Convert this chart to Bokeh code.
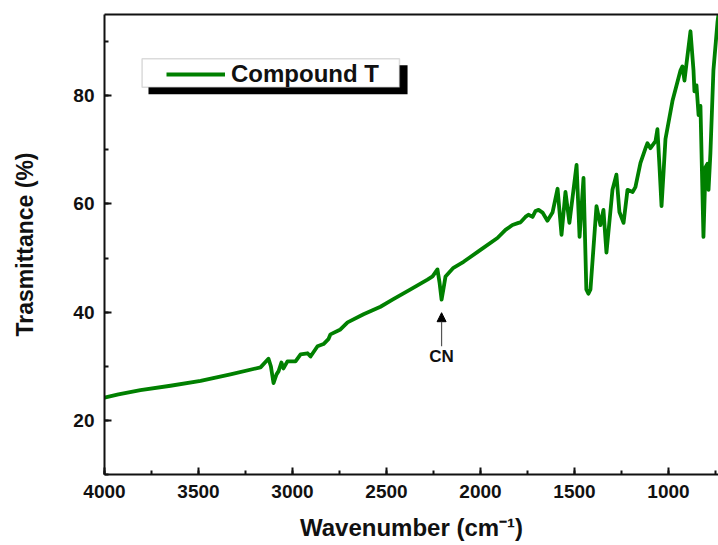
from bokeh.plotting import figure
from bokeh.models import (Range1d, LinearAxis, SingleIntervalTicker, FixedTicker,
                          BoxAnnotation, Legend, LegendItem, Arrow, NormalHead, Label,
                          ColumnDataSource)
from bokeh.embed import file_html
from bokeh.resources import INLINE

# ---- data ----
wavenumber = [4000, 3926, 3809, 3649, 3489, 3330, 3170, 3128, 3115, 3101, 3085, 3074,
              3059, 3048, 3027, 2984, 2957, 2920, 2904, 2867, 2835, 2809, 2798, 2745,
              2707, 2622, 2532, 2468, 2372, 2282, 2255, 2229, 2218, 2207, 2196, 2186,
              2144, 2090, 2000, 1910, 1867, 1830, 1798, 1787, 1761, 1745, 1723, 1707,
              1691, 1670, 1644, 1617, 1590, 1569, 1548, 1527, 1489, 1473, 1452, 1437,
              1426, 1415, 1383, 1362, 1346, 1330, 1298, 1277, 1261, 1239, 1218, 1191,
              1176, 1149, 1122, 1112, 1096, 1069, 1059, 1048, 1037, 1026, 1016, 979,
              936, 926, 915, 904, 883, 867, 862, 851, 840, 830, 814, 803, 793, 787,
              777, 761, 739, 734]
transmittance = [24.2, 24.8, 25.6, 26.4, 27.3, 28.5, 29.8, 31.4, 30.0, 26.9, 28.5, 29.1,
                 30.7, 29.6, 30.9, 30.9, 32.2, 32.4, 31.8, 33.7, 34.1, 35.0, 35.9, 36.8,
                 38.1, 39.6, 41.0, 42.3, 44.2, 46.0, 46.6, 47.9, 45.5, 42.3, 44.5, 46.6,
                 48.2, 49.3, 51.5, 53.7, 55.2, 56.1, 56.5, 56.6, 57.6, 58.0, 57.6, 58.7,
                 58.9, 58.4, 56.9, 58.4, 62.8, 54.3, 62.2, 56.5, 67.2, 53.9, 64.8, 44.2,
                 43.4, 44.2, 59.6, 56.1, 58.9, 51.0, 62.6, 65.4, 58.5, 56.5, 62.6, 62.2,
                 63.1, 67.6, 70.3, 71.2, 70.3, 71.6, 73.8, 67.0, 59.6, 66.0, 72.0, 79.0,
                 84.7, 85.4, 82.8, 86.0, 91.9, 84.7, 80.8, 81.9, 76.4, 78.1, 53.9, 66.8,
                 67.4, 62.6, 69.4, 84.7, 93.7, 95.0]
series_name = "Compound T"
x_label = "Wavenumber (cm\u207b\u00b9)"
y_label = "Trasmittance (%)"
annotation_text = "CN"

# ---- positions / styles ----
FONT = "Liberation Sans"
GREEN = "#008000"
cn_x, cn_y0, cn_y1, cn_text_y = 2207, 33.7, 39.9, 31.8

p = figure(width=718, height=545, output_backend="svg", toolbar_location=None,
           x_range=Range1d(4000, 734), y_range=Range1d(10, 95),
           x_axis_type=None, y_axis_type=None,
           min_border_left=104, min_border_right=0, min_border_top=14,
           min_border_bottom=71)
p.outline_line_color = None
p.background_fill_color = "white"
p.border_fill_color = "white"


def style_axis(ax):
    ax.axis_line_width = 2
    ax.axis_line_color = "#111111"
    ax.major_tick_line_width = 2
    ax.minor_tick_line_width = 2
    ax.major_tick_line_color = "#111111"
    ax.minor_tick_line_color = "#111111"
    ax.major_tick_in = 7
    ax.major_tick_out = 0
    ax.minor_tick_in = 4
    ax.minor_tick_out = 0
    ax.major_label_text_font = FONT
    ax.major_label_text_font_style = "bold"
    ax.major_label_text_font_size = "19px"
    ax.major_label_text_color = "#111111"
    ax.axis_label_text_font = FONT
    ax.axis_label_text_font_style = "bold"
    ax.axis_label_text_color = "#111111"


xaxis = LinearAxis(ticker=SingleIntervalTicker(interval=500, num_minor_ticks=2),
                   axis_label=x_label)
style_axis(xaxis)
xaxis.major_label_standoff = 10
xaxis.axis_label_standoff = 13
xaxis.axis_label_text_font_size = "24px"
p.add_layout(xaxis, "below")

yaxis = LinearAxis(ticker=SingleIntervalTicker(interval=20, num_minor_ticks=2),
                   axis_label=y_label)
style_axis(yaxis)
yaxis.major_label_standoff = 10
yaxis.axis_label_standoff = 32
yaxis.axis_label_text_font_size = "23px"
p.add_layout(yaxis, "left")

top = LinearAxis(ticker=FixedTicker(ticks=[]))
top.axis_line_width = 2
top.axis_line_color = "#111111"
top.major_tick_line_color = None
top.minor_tick_line_color = None
top.major_label_text_font_size = "0px"
p.add_layout(top, "above")

src = ColumnDataSource(dict(wn=wavenumber, t=transmittance))
r = p.line("wn", "t", source=src, line_color=GREEN, line_width=3.8,
           line_join="round")

# legend box with shadow
shadow = BoxAnnotation(left=3766, right=2388, top=85.6, bottom=80.27,
                       fill_color="black", fill_alpha=1, line_color=None)
box = BoxAnnotation(left=3800, right=2431, top=86.84, bottom=81.56,
                    fill_color="white", fill_alpha=1, line_color="#888888",
                    line_width=1.5)
p.add_layout(shadow)
p.add_layout(box)

legend = Legend(items=[LegendItem(label=series_name, renderers=[r])],
                location=(62, 386), padding=0, margin=0, spacing=0,
                glyph_width=59, glyph_height=20, label_height=20,
                label_standoff=6, label_text_font=FONT,
                label_text_font_style="bold", label_text_font_size="24px",
                label_text_color="#111111",
                border_line_color=None, background_fill_alpha=0)
p.add_layout(legend)

arrow = Arrow(end=NormalHead(size=9, fill_color="black", line_color="black"),
              x_start=cn_x, y_start=cn_y0, x_end=cn_x, y_end=cn_y1,
              line_color="#555555", line_width=1.2)
p.add_layout(arrow)
p.add_layout(Label(x=cn_x, y=cn_text_y, text=annotation_text, text_align="center",
                   text_baseline="middle", text_font=FONT, text_font_style="bold",
                   text_font_size="17px", text_color="#111111"))

open("out.html", "w").write(file_html(p, INLINE))
